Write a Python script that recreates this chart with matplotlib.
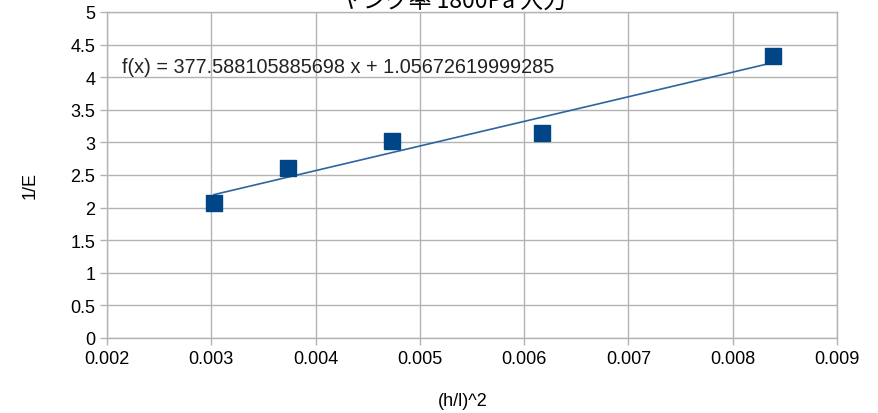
import numpy as np
import matplotlib
matplotlib.use("Agg")
import matplotlib.pyplot as plt

plt.rcParams['font.family'] = ['Liberation Sans', 'Noto Sans CJK JP', 'DejaVu Sans']

# 測定値
hl2 = [0.003026, 0.003736, 0.004733, 0.006171, 0.008386]
inv_e = [2.07, 2.61, 3.02, 3.14, 4.325]

# 近似直線の係数
slope = 377.588105885698
intercept = 1.05672619999285

title = "ヤング率 1800Pa 入力"
xlabel = "(h/l)^2"
ylabel = "1/E"

grid_c = '#b3b3b3'
blue = '#004586'

fig = plt.figure(figsize=(8.79, 4.14), dpi=100)
ax = fig.add_axes([107/879, 1 - 339/414, 730/879, 326/414])

ax.set_xlim(0.002, 0.009)
ax.set_ylim(0, 5)
ax.set_xticks(np.arange(0.002, 0.0091, 0.001))
ax.set_yticks(np.arange(0, 5.01, 0.5))
ax.set_xticklabels([f"{v:.3f}" for v in np.arange(0.002, 0.0091, 0.001)])
ax.set_yticklabels([f"{v:g}" for v in np.arange(0, 5.01, 0.5)])

ax.grid(True, color=grid_c, lw=1)
ax.set_axisbelow(True)
for s in ax.spines.values():
    s.set_color(grid_c)
    s.set_linewidth(1)
ax.tick_params(colors=grid_c, labelcolor='#000000', labelsize=13, length=5, width=1)

# 近似直線
xs = np.array([min(hl2), max(hl2)])
ax.plot(xs, slope * xs + intercept, color='#2f64a0', lw=1.2, zorder=3)
ax.plot(hl2, inv_e, ls='none', marker='s', ms=11.5, color=blue, zorder=4)

ax.text(0.00214, 4.16, f"f(x) = {slope:.12f} x + {intercept:.14f}", fontsize=14.3,
        color='#222222', va='center')

ax.set_xlabel(xlabel, fontsize=13, va='center')
ax.set_ylabel(ylabel, fontsize=13, va='center')
ax.xaxis.set_label_coords(0.487, -0.193)
ax.yaxis.set_label_coords(-0.105, 0.47)
fig.text(0.515, 1 - 8/414, title, fontsize=16.5, ha='center', va='baseline',
         family=['Noto Sans CJK JP', 'DejaVu Sans'])

fig.savefig("out.png", dpi=100)
